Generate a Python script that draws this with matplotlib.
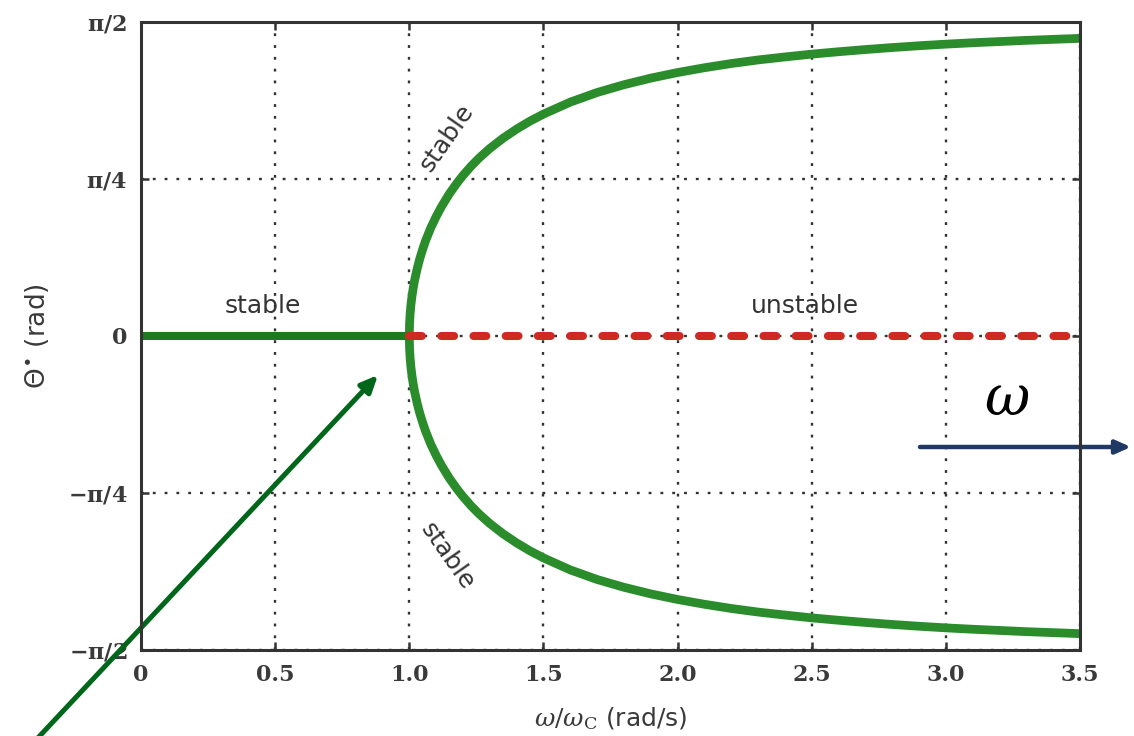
import numpy as np
import matplotlib
matplotlib.use("Agg")
import matplotlib.pyplot as plt

plt.rcParams["mathtext.fontset"] = "dejavuserif"

# ---- data ----
omega_branch = [1.0, 1.001, 1.003, 1.006, 1.01, 1.015, 1.02, 1.03, 1.04, 1.05, 1.06, 1.08,
                1.1, 1.12, 1.15, 1.18, 1.2, 1.23, 1.26, 1.3, 1.35, 1.4, 1.45, 1.5, 1.6, 1.7,
                1.8, 1.9, 2.0, 2.1, 2.2, 2.3, 2.4, 2.5, 2.6, 2.7, 2.8, 2.9, 3.0, 3.1, 3.2,
                3.3, 3.4, 3.5]
theta_upper = [0.0, 0.063, 0.109, 0.155, 0.199, 0.243, 0.280, 0.340, 0.391, 0.434, 0.474, 0.541,
               0.597, 0.647, 0.713, 0.769, 0.803, 0.849, 0.890, 0.938, 0.990, 1.035, 1.075, 1.110,
               1.170, 1.218, 1.257, 1.290, 1.318, 1.342, 1.363, 1.381, 1.396, 1.410, 1.422,
               1.433, 1.443, 1.452, 1.460, 1.467, 1.473, 1.479, 1.484, 1.489]
theta_lower = [-0.0, -0.063, -0.109, -0.155, -0.199, -0.243, -0.280, -0.340, -0.391, -0.434,
               -0.474, -0.541, -0.597, -0.647, -0.713, -0.769, -0.803, -0.849, -0.890, -0.938,
               -0.990, -1.035, -1.075, -1.110, -1.170, -1.218, -1.257, -1.290, -1.318, -1.342,
               -1.363, -1.381, -1.396, -1.410, -1.422, -1.433, -1.443, -1.452, -1.460, -1.467,
               -1.473, -1.479, -1.484, -1.489]
omega_stable0 = [0.0, 1.0]
theta_stable0 = [0.0, 0.0]
omega_unstable = [1.0, 3.5]
theta_unstable = [0.0, 0.0]

xticks = [0, 0.5, 1.0, 1.5, 2.0, 2.5, 3.0, 3.5]
xticklabels = ["0", "0.5", "1.0", "1.5", "2.0", "2.5", "3.0", "3.5"]
yticks = [-np.pi / 2, -np.pi / 4, 0, np.pi / 4, np.pi / 2]
yticklabels = [r"$\mathbf{-\pi/2}$", r"$\mathbf{-\pi/4}$", r"$\mathbf{0}$",
               r"$\mathbf{\pi/4}$", r"$\mathbf{\pi/2}$"]

W, H = 1134, 736
fig = plt.figure(figsize=(W / 100, H / 100), dpi=100)
ax = fig.add_axes([141 / W, 1 - 650 / H, (1080 - 141) / W, (650 - 22) / H])

green = "#2b8c2b"
red = "#cf2a22"
ax.plot(omega_branch, theta_upper, color=green, lw=6.3, solid_capstyle="butt", zorder=3)
ax.plot(omega_branch, theta_lower, color=green, lw=6.3, solid_capstyle="butt", zorder=3)
ax.plot(omega_stable0, theta_stable0, color="#1f7a1f", lw=5.8, solid_capstyle="butt", zorder=3)
ax.plot(omega_unstable, theta_unstable, color=red, lw=5.8, dashes=(1.6, 2.4),
        dash_capstyle="round", zorder=3)

ax.set_xlim(0, 3.5)
ax.set_ylim(-np.pi / 2, np.pi / 2)
ax.set_xticks(xticks)
ax.set_xticklabels(xticklabels)
ax.set_yticks(yticks)
ax.set_yticklabels(yticklabels)
ax.grid(True, color="#333333", ls=(0, (1.2, 3.8)), lw=1.7, zorder=4)
ax.set_axisbelow(False)
for s in ax.spines.values():
    s.set_linewidth(2.2)
    s.set_color("#333333")
    s.set_zorder(5)
ax.tick_params(direction="in", length=6, width=1.8, color="#333333",
               labelsize=16, labelcolor="#3a3a3a", pad=10, top=True, right=True)
for lab in ax.get_xticklabels() + ax.get_yticklabels():
    lab.set_family("DejaVu Serif")
    lab.set_fontweight("bold")

ax.set_xlabel(r"$\omega/\omega_{\rm C}$ (rad/s)", fontsize=18, color="#3a3a3a", labelpad=14)
ax.set_ylabel("Θ$^{\\bullet}$ (rad)", fontsize=19, color="#3a3a3a", labelpad=12,
              math_fontfamily="dejavusans")

txt = dict(fontsize=18, color="#333333", ha="center", va="center", zorder=6)
ax.text(0.455, 0.15, "stable", **txt)
ax.text(2.475, 0.15, "unstable", **txt)
ax.text(1.14, 0.99, "stable", rotation=55, **txt)
ax.text(1.14, -1.10, "stable", rotation=-55, **txt)

# green annotation arrow (figure pixels)
ax.annotate("", xy=(378, H - 375), xytext=(35, -5), xycoords="figure pixels",
            textcoords="figure pixels", annotation_clip=False,
            arrowprops=dict(arrowstyle="-|>,head_length=1.0,head_width=0.45",
                            color="#00661a", lw=3.6, shrinkA=0, shrinkB=0))
# blue omega arrow
ax.annotate("", xy=(1131, H - 447), xytext=(920, H - 447), xycoords="figure pixels",
            textcoords="figure pixels", annotation_clip=False,
            arrowprops=dict(arrowstyle="-|>,head_length=0.9,head_width=0.4",
                            color="#1f3864", lw=3.2, shrinkA=0, shrinkB=0))
fig.text(1007 / W, 1 - 400 / H, r"$\omega$", fontsize=40, ha="center", va="center", color="black")

fig.savefig("out.png", dpi=100)
